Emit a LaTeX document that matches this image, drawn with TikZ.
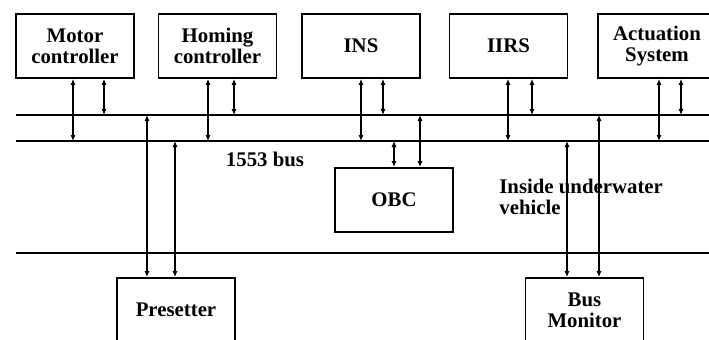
\documentclass[tikz,border=0pt]{standalone}
\usepackage{fontspec}
\setmainfont{Liberation Serif}
\usetikzlibrary{arrows.meta}
\tikzset{
  unit/.style={draw, line width=0.9pt, minimum width=59pt, minimum height=32pt,
               font=\fontsize{10.4}{10.6}\selectfont\bfseries, align=center, inner sep=1pt},
  busline/.style={line width=0.9pt},
  link/.style={{Latex[length=3pt,width=2.6pt]}-{Latex[length=3pt,width=2.6pt]}, line width=0.8pt},
  tag/.style={font=\fontsize{10.4}{10.6}\selectfont\bfseries, inner sep=0pt},
}

\begin{document}
\begin{tikzpicture}[x=0.5pt, y=-0.5pt]
    \useasboundingbox (0,0) rectangle (709,339);
    % units on top
    \node[unit] (motor) at (75, 46) {Motor\\controller};
    \node[unit] (homing) at (217.5, 46) {Homing\\controller};
    \node[unit] (ins) at (361, 46) {INS};
    \node[unit] (iirs) at (508.5, 46) {IIRS};
    \node[unit] (act) at (657, 46) {Actuation\\System};
    % lower units
    \node[unit] (obc) at (394, 200) {OBC};
    \node[unit] (preset) at (176, 310) {Presetter};
    \node[unit] (busmon) at (584.5, 310) {Bus\\Monitor};
    % 1553 bus and vehicle border
    \coordinate (busA) at (16, 115);
    \coordinate (busAe) at (709, 115);
    \coordinate (busB) at (16, 141);
    \coordinate (busBe) at (709, 141);
    \coordinate (hull) at (16, 253);
    \coordinate (hulle) at (709, 253);
    \draw[busline] (busA) -- (busAe);
    \draw[busline] (busB) -- (busBe);
    \draw[busline] (hull) -- (hulle);
    % stubs
    \draw[link] ([xshift=-1pt]motor.south) -- ([xshift=-1pt]motor.south |- busB);
    \draw[link] ([xshift=14.5pt]motor.south) -- ([xshift=14.5pt]motor.south |- busA);
    \draw[link] ([xshift=-4.75pt]homing.south) -- ([xshift=-4.75pt]homing.south |- busB);
    \draw[link] ([xshift=8.25pt]homing.south) -- ([xshift=8.25pt]homing.south |- busA);
    \draw[link] (ins.south) -- (ins.south |- busB);
    \draw[link] ([xshift=11pt]ins.south) -- ([xshift=11pt]ins.south |- busA);
    \draw[link] ([xshift=-0.25pt]iirs.south) -- ([xshift=-0.25pt]iirs.south |- busB);
    \draw[link] ([xshift=11.75pt]iirs.south) -- ([xshift=11.75pt]iirs.south |- busA);
    \draw[link] ([xshift=1pt]act.south) -- ([xshift=1pt]act.south |- busB);
    \draw[link] ([xshift=12pt]act.south) -- ([xshift=12pt]act.south |- busA);
    \draw[link] (obc.north |- busB) -- (obc.north);
    \draw[link] ([xshift=13pt]obc.north |- busA) -- ([xshift=13pt]obc.north);
    \draw[link] ([xshift=-14.5pt]preset.north |- busA) -- ([xshift=-14.5pt]preset.north);
    \draw[link] ([xshift=-0.5pt]preset.north |- busB) -- ([xshift=-0.5pt]preset.north);
    \draw[link] ([xshift=-8.75pt]busmon.north |- busB) -- ([xshift=-8.75pt]busmon.north);
    \draw[link] ([xshift=7.25pt]busmon.north |- busA) -- ([xshift=7.25pt]busmon.north);
    % labels
    \node[tag] (buslabel) at (265, 159) {1553 bus};
    \node[tag, anchor=west, align=left] (inside) at (499, 197) {Inside underwater\\vehicle};
  \end{tikzpicture}
\end{document}
